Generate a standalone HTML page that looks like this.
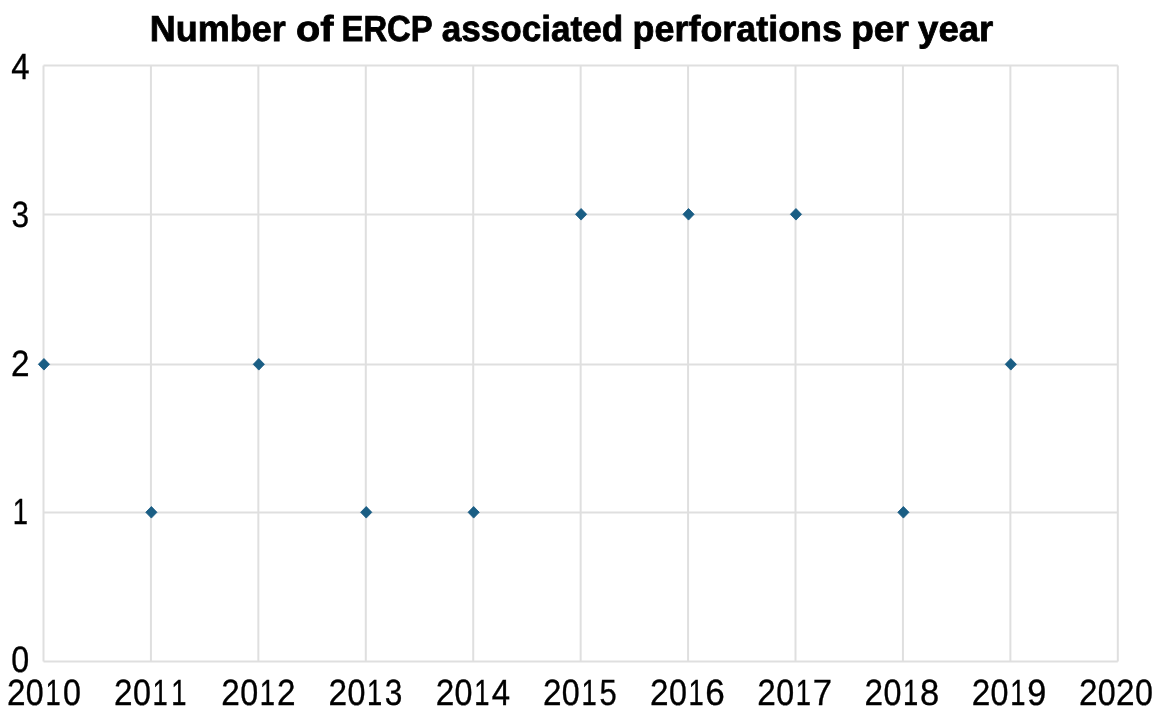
<!DOCTYPE html>
<html><head><meta charset="utf-8"><style>
html,body{margin:0;padding:0;background:#fff;width:1171px;height:724px;overflow:hidden}
svg{display:block;will-change:transform}
text{font-family:"Liberation Sans",sans-serif;fill:#000;text-rendering:geometricPrecision}
</style></head><body>
<svg width="1171" height="724" viewBox="0 0 1171 724">
<rect width="1171" height="724" fill="#fff"/>
<g stroke="#dfdfdf" stroke-width="2"><line x1="43.50" y1="65.5" x2="43.50" y2="661.5"/><line x1="150.93" y1="65.5" x2="150.93" y2="661.5"/><line x1="258.36" y1="65.5" x2="258.36" y2="661.5"/><line x1="365.79" y1="65.5" x2="365.79" y2="661.5"/><line x1="473.22" y1="65.5" x2="473.22" y2="661.5"/><line x1="580.65" y1="65.5" x2="580.65" y2="661.5"/><line x1="688.08" y1="65.5" x2="688.08" y2="661.5"/><line x1="795.51" y1="65.5" x2="795.51" y2="661.5"/><line x1="902.94" y1="65.5" x2="902.94" y2="661.5"/><line x1="1010.37" y1="65.5" x2="1010.37" y2="661.5"/><line x1="1117.80" y1="65.5" x2="1117.80" y2="661.5"/><line x1="43.5" y1="65.50" x2="1117.8" y2="65.50"/><line x1="43.5" y1="214.50" x2="1117.8" y2="214.50"/><line x1="43.5" y1="364.50" x2="1117.8" y2="364.50"/><line x1="43.5" y1="512.50" x2="1117.8" y2="512.50"/><line x1="43.5" y1="661.50" x2="1117.8" y2="661.50"/></g>
<text transform="translate(149.78,40.95) scale(0.9944,1)" font-size="36.2" font-weight="bold" stroke="#000" stroke-width="0.8">Number</text>
<text transform="translate(296.00,40.95) scale(1.0959,1)" font-size="36.2" font-weight="bold" stroke="#000" stroke-width="0.8">of</text>
<text transform="translate(341.49,40.95) scale(0.9071,1)" font-size="36.2" font-weight="bold" stroke="#000" stroke-width="0.8">ERCP</text>
<text transform="translate(441.70,40.95) scale(0.9704,1)" font-size="36.2" font-weight="bold" stroke="#000" stroke-width="0.8">associated</text>
<text transform="translate(632.59,40.95) scale(0.9916,1)" font-size="36.2" font-weight="bold" stroke="#000" stroke-width="0.8">perforations</text>
<text transform="translate(851.21,40.95) scale(1.0239,1)" font-size="36.2" font-weight="bold" stroke="#000" stroke-width="0.8">per</text>
<text transform="translate(918.10,40.95) scale(1.0104,1)" font-size="36.2" font-weight="bold" stroke="#000" stroke-width="0.8">year</text>
<text transform="translate(11.24,78.7) scale(0.9025,1)" font-size="36.5" stroke="#000" stroke-width="0.35">4</text>
<text transform="translate(11.45,226.5) scale(0.8668,1)" font-size="36.5" stroke="#000" stroke-width="0.35">3</text>
<text transform="translate(11.12,375.8) scale(0.9141,1)" font-size="36.5" stroke="#000" stroke-width="0.35">2</text>
<text transform="translate(12.87,523.8) scale(0.7498,1)" font-size="36.5" stroke="#000" stroke-width="0.35">1</text>
<text transform="translate(11.14,671.5) scale(0.8826,1)" font-size="36.5" stroke="#000" stroke-width="0.35">0</text>
<text transform="translate(6.89,704.8) scale(0.9141,1)" font-size="36.5" stroke="#000" stroke-width="0.35">2</text><text transform="translate(25.81,704.8) scale(0.8826,1)" font-size="36.5" stroke="#000" stroke-width="0.35">0</text><text transform="translate(45.39,704.8) scale(0.7498,1)" font-size="36.5" stroke="#000" stroke-width="0.35">1</text><text transform="translate(63.01,704.8) scale(0.8826,1)" font-size="36.5" stroke="#000" stroke-width="0.35">0</text>
<text transform="translate(114.09,704.8) scale(0.9141,1)" font-size="36.5" stroke="#000" stroke-width="0.35">2</text><text transform="translate(133.01,704.8) scale(0.8826,1)" font-size="36.5" stroke="#000" stroke-width="0.35">0</text><text transform="translate(152.59,704.8) scale(0.7498,1)" font-size="36.5" stroke="#000" stroke-width="0.35">1</text><text transform="translate(171.19,704.8) scale(0.7498,1)" font-size="36.5" stroke="#000" stroke-width="0.35">1</text>
<text transform="translate(221.29,704.8) scale(0.9141,1)" font-size="36.5" stroke="#000" stroke-width="0.35">2</text><text transform="translate(240.21,704.8) scale(0.8826,1)" font-size="36.5" stroke="#000" stroke-width="0.35">0</text><text transform="translate(259.79,704.8) scale(0.7498,1)" font-size="36.5" stroke="#000" stroke-width="0.35">1</text><text transform="translate(277.09,704.8) scale(0.9141,1)" font-size="36.5" stroke="#000" stroke-width="0.35">2</text>
<text transform="translate(328.49,704.8) scale(0.9141,1)" font-size="36.5" stroke="#000" stroke-width="0.35">2</text><text transform="translate(347.41,704.8) scale(0.8826,1)" font-size="36.5" stroke="#000" stroke-width="0.35">0</text><text transform="translate(366.99,704.8) scale(0.7498,1)" font-size="36.5" stroke="#000" stroke-width="0.35">1</text><text transform="translate(384.87,704.8) scale(0.8668,1)" font-size="36.5" stroke="#000" stroke-width="0.35">3</text>
<text transform="translate(435.69,704.8) scale(0.9141,1)" font-size="36.5" stroke="#000" stroke-width="0.35">2</text><text transform="translate(454.61,704.8) scale(0.8826,1)" font-size="36.5" stroke="#000" stroke-width="0.35">0</text><text transform="translate(474.19,704.8) scale(0.7498,1)" font-size="36.5" stroke="#000" stroke-width="0.35">1</text><text transform="translate(491.71,704.8) scale(0.9025,1)" font-size="36.5" stroke="#000" stroke-width="0.35">4</text>
<text transform="translate(542.89,704.8) scale(0.9141,1)" font-size="36.5" stroke="#000" stroke-width="0.35">2</text><text transform="translate(561.81,704.8) scale(0.8826,1)" font-size="36.5" stroke="#000" stroke-width="0.35">0</text><text transform="translate(581.39,704.8) scale(0.7498,1)" font-size="36.5" stroke="#000" stroke-width="0.35">1</text><text transform="translate(599.38,704.8) scale(0.8494,1)" font-size="36.5" stroke="#000" stroke-width="0.35">5</text>
<text transform="translate(650.09,704.8) scale(0.9141,1)" font-size="36.5" stroke="#000" stroke-width="0.35">2</text><text transform="translate(669.01,704.8) scale(0.8826,1)" font-size="36.5" stroke="#000" stroke-width="0.35">0</text><text transform="translate(688.59,704.8) scale(0.7498,1)" font-size="36.5" stroke="#000" stroke-width="0.35">1</text><text transform="translate(705.29,704.8) scale(0.9619,1)" font-size="36.5" stroke="#000" stroke-width="0.35">6</text>
<text transform="translate(757.29,704.8) scale(0.9141,1)" font-size="36.5" stroke="#000" stroke-width="0.35">2</text><text transform="translate(776.21,704.8) scale(0.8826,1)" font-size="36.5" stroke="#000" stroke-width="0.35">0</text><text transform="translate(795.79,704.8) scale(0.7498,1)" font-size="36.5" stroke="#000" stroke-width="0.35">1</text><text transform="translate(812.69,704.8) scale(0.9522,1)" font-size="36.5" stroke="#000" stroke-width="0.35">7</text>
<text transform="translate(864.49,704.8) scale(0.9141,1)" font-size="36.5" stroke="#000" stroke-width="0.35">2</text><text transform="translate(883.41,704.8) scale(0.8826,1)" font-size="36.5" stroke="#000" stroke-width="0.35">0</text><text transform="translate(902.99,704.8) scale(0.7498,1)" font-size="36.5" stroke="#000" stroke-width="0.35">1</text><text transform="translate(919.97,704.8) scale(0.9459,1)" font-size="36.5" stroke="#000" stroke-width="0.35">8</text>
<text transform="translate(971.69,704.8) scale(0.9141,1)" font-size="36.5" stroke="#000" stroke-width="0.35">2</text><text transform="translate(990.61,704.8) scale(0.8826,1)" font-size="36.5" stroke="#000" stroke-width="0.35">0</text><text transform="translate(1010.19,704.8) scale(0.7498,1)" font-size="36.5" stroke="#000" stroke-width="0.35">1</text><text transform="translate(1027.27,704.8) scale(0.9371,1)" font-size="36.5" stroke="#000" stroke-width="0.35">9</text>
<text transform="translate(1078.89,704.8) scale(0.9141,1)" font-size="36.5" stroke="#000" stroke-width="0.35">2</text><text transform="translate(1097.81,704.8) scale(0.8826,1)" font-size="36.5" stroke="#000" stroke-width="0.35">0</text><text transform="translate(1116.09,704.8) scale(0.9141,1)" font-size="36.5" stroke="#000" stroke-width="0.35">2</text><text transform="translate(1135.01,704.8) scale(0.8826,1)" font-size="36.5" stroke="#000" stroke-width="0.35">0</text>
<g fill="#1a5e84" stroke="#105680" stroke-width="0.8" stroke-linejoin="round"><path d="M43.95 358.50L49.55 364.30L43.95 370.10L38.35 364.30Z"/><path d="M151.38 506.50L156.98 512.30L151.38 518.10L145.78 512.30Z"/><path d="M258.81 358.50L264.41 364.30L258.81 370.10L253.21 364.30Z"/><path d="M366.24 506.50L371.84 512.30L366.24 518.10L360.64 512.30Z"/><path d="M473.67 506.50L479.27 512.30L473.67 518.10L468.07 512.30Z"/><path d="M581.10 208.50L586.70 214.30L581.10 220.10L575.50 214.30Z"/><path d="M688.53 208.50L694.13 214.30L688.53 220.10L682.93 214.30Z"/><path d="M795.96 208.50L801.56 214.30L795.96 220.10L790.36 214.30Z"/><path d="M903.39 506.50L908.99 512.30L903.39 518.10L897.79 512.30Z"/><path d="M1010.82 358.50L1016.42 364.30L1010.82 370.10L1005.22 364.30Z"/></g>
</svg></body></html>
